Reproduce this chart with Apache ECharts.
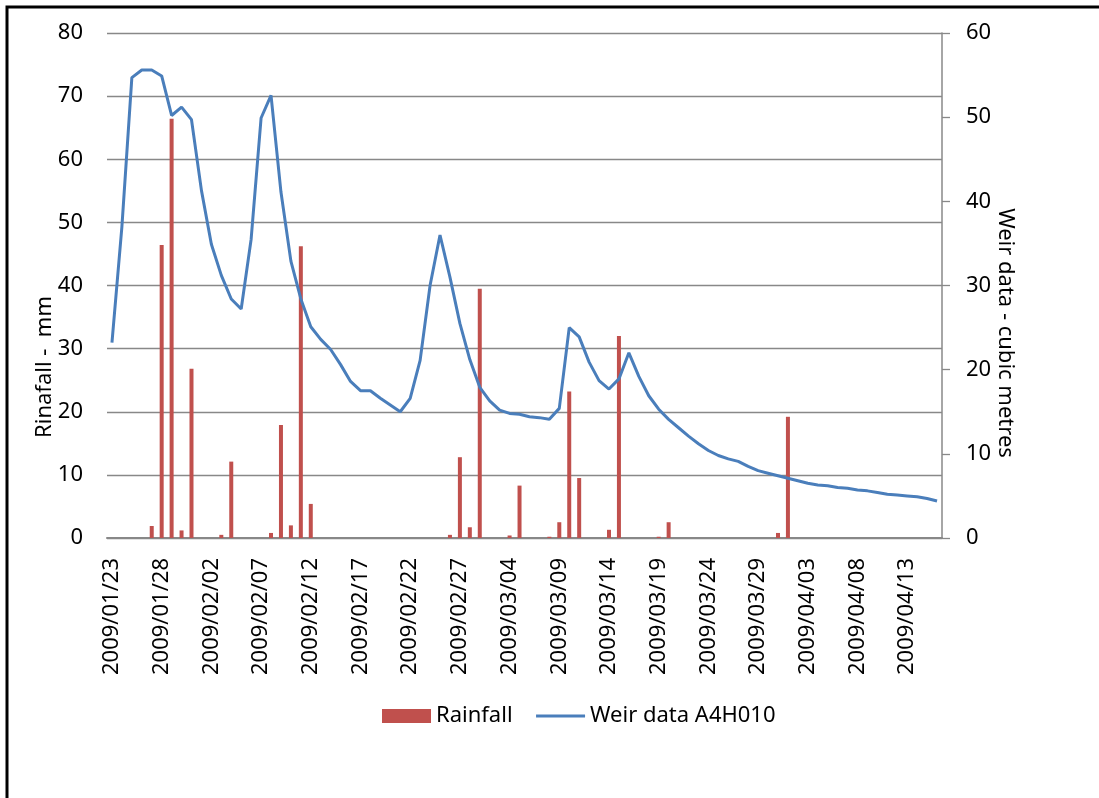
<!DOCTYPE html>
<html>
<head>
<meta charset="utf-8">
<script src="https://cdn.jsdelivr.net/npm/echarts@6/dist/echarts.min.js"></script>
<style>
html,body{margin:0;padding:0;background:#fff;}
#chart{width:1099px;height:798px;}
</style>
</head>
<body>
<div id="chart"></div>
<script>
var categories = [
 '2009/01/23','2009/01/24','2009/01/25','2009/01/26','2009/01/27','2009/01/28','2009/01/29','2009/01/30','2009/01/31',
 '2009/02/01','2009/02/02','2009/02/03','2009/02/04','2009/02/05','2009/02/06','2009/02/07','2009/02/08','2009/02/09','2009/02/10',
 '2009/02/11','2009/02/12','2009/02/13','2009/02/14','2009/02/15','2009/02/16','2009/02/17','2009/02/18','2009/02/19','2009/02/20',
 '2009/02/21','2009/02/22','2009/02/23','2009/02/24','2009/02/25','2009/02/26','2009/02/27','2009/02/28',
 '2009/03/01','2009/03/02','2009/03/03','2009/03/04','2009/03/05','2009/03/06','2009/03/07','2009/03/08','2009/03/09','2009/03/10',
 '2009/03/11','2009/03/12','2009/03/13','2009/03/14','2009/03/15','2009/03/16','2009/03/17','2009/03/18','2009/03/19','2009/03/20',
 '2009/03/21','2009/03/22','2009/03/23','2009/03/24','2009/03/25','2009/03/26','2009/03/27','2009/03/28','2009/03/29','2009/03/30',
 '2009/03/31','2009/04/01','2009/04/02','2009/04/03','2009/04/04','2009/04/05','2009/04/06','2009/04/07','2009/04/08','2009/04/09',
 '2009/04/10','2009/04/11','2009/04/12','2009/04/13','2009/04/14','2009/04/15','2009/04/16'
];

var rainfall = [
 0, 0, 0, 0, 1.9, 46.4, 66.4, 1.2, 26.8,
 0, 0, 0.5, 12.1, 0, 0, 0, 0.8, 17.9, 2.0,
 46.2, 5.4, 0, 0, 0, 0, 0, 0, 0, 0,
 0, 0, 0, 0, 0, 0.5, 12.8, 1.7,
 39.5, 0, 0, 0.4, 8.3, 0, 0, 0.2, 2.5, 23.2,
 9.5, 0, 0, 1.3, 32.0, 0, 0, 0, 0.2, 2.5,
 0, 0, 0, 0, 0, 0, 0, 0, 0, 0,
 0.8, 19.2, 0, 0, 0, 0, 0, 0, 0, 0,
 0, 0, 0, 0, 0, 0, 0
];

var weir = [
 23.2, 37.0, 54.7, 55.6, 55.6, 54.9, 50.2, 51.2, 49.7,
 41.3, 34.9, 31.2, 28.4, 27.2, 35.5, 49.9, 52.6, 41.1, 32.9,
 28.4, 25.1, 23.6, 22.4, 20.6, 18.6, 17.5, 17.5, 16.6, 15.8,
 15.0, 16.6, 21.1, 30.0, 36.0, 31.0, 25.5, 21.2,
 17.9, 16.3, 15.2, 14.8, 14.7, 14.4, 14.3, 14.1, 15.4, 25.0,
 23.9, 20.9, 18.7, 17.7, 18.9, 22.0, 19.2, 16.9, 15.3, 14.1,
 13.1, 12.1, 11.2, 10.4, 9.8, 9.4, 9.1, 8.5, 8.0, 7.7,
 7.4, 7.1, 6.8, 6.5, 6.3, 6.2, 6.0, 5.9, 5.7, 5.6,
 5.4, 5.2, 5.1, 5.0, 4.9, 4.7, 4.4
];

var leftTitle = 'Rinafall -  mm';
var rightTitle = 'Weir data - cubic metres';
var seriesNames = ['Rainfall', 'Weir data A4H010'];

var FONT = '"Noto Sans", "Open Sans", sans-serif';
var GRID = '#888888';

var chart = echarts.init(document.getElementById('chart'), null, {renderer: 'canvas'});
chart.setOption({
  backgroundColor: '#ffffff',
  animation: false,
  textStyle: {fontFamily: FONT},
  grid: {left: 107, right: 157, top: 33, bottom: 260, containLabel: false},
  legend: {
    left: 377, top: 700,
    itemWidth: 49, itemHeight: 14, itemGap: 22,
    textStyle: {fontSize: 22, color: '#000', fontFamily: FONT},
    data: [
      {name: seriesNames[0], icon: 'rect'},
      {name: seriesNames[1], itemStyle: {opacity: 0}, lineStyle: {width: 3}}
    ]
  },
  xAxis: {
    type: 'category',
    data: categories,
    boundaryGap: true,
    axisLine: {show: true, lineStyle: {color: GRID, width: 2}},
    axisTick: {show: false},
    axisLabel: {interval: 4, rotate: 90, fontSize: 22, color: '#000', margin: 20, fontFamily: FONT},
    splitLine: {show: false}
  },
  yAxis: [
    {
      type: 'value', min: 0, max: 80, interval: 10, position: 'left',
      axisLine: {show: false}, axisTick: {show: false},
      axisLabel: {fontSize: 22, color: '#000', margin: 24, fontFamily: FONT},
      splitLine: {show: true, lineStyle: {color: GRID, width: 1.3}}
    },
    {
      type: 'value', min: 0, max: 60, interval: 10, position: 'right',
      axisLine: {show: true, lineStyle: {color: GRID, width: 1.5}},
      axisTick: {show: true, inside: false, length: 8, lineStyle: {color: GRID, width: 1.3}},
      axisLabel: {fontSize: 22, color: '#000', margin: 24, fontFamily: FONT},
      splitLine: {show: false}
    }
  ],
  series: [
    {
      name: seriesNames[0], type: 'bar', yAxisIndex: 0, data: rainfall,
      barWidth: 4, itemStyle: {color: '#C0504D'}
    },
    {
      name: seriesNames[1], type: 'line', yAxisIndex: 1, data: weir,
      symbol: 'none', smooth: false,
      lineStyle: {color: '#4A7EBB', width: 3}, itemStyle: {color: '#4A7EBB'}
    }
  ],
  graphic: [
    {type: 'rect', silent: true, z: 100,
     shape: {x: 7, y: 7, width: 1300, height: 1300},
     style: {fill: 'none', stroke: '#000', lineWidth: 3}},
    {type: 'text', silent: true, x: 45, y: 367, rotation: Math.PI / 2,
     style: {text: leftTitle, font: '22px ' + FONT, fill: '#000', textAlign: 'center', textVerticalAlign: 'middle'}},
    {type: 'text', silent: true, x: 1005, y: 333, rotation: -Math.PI / 2,
     style: {text: rightTitle, font: '22px ' + FONT, fill: '#000', textAlign: 'center', textVerticalAlign: 'middle'}}
  ]
});
</script>
</body>
</html>
